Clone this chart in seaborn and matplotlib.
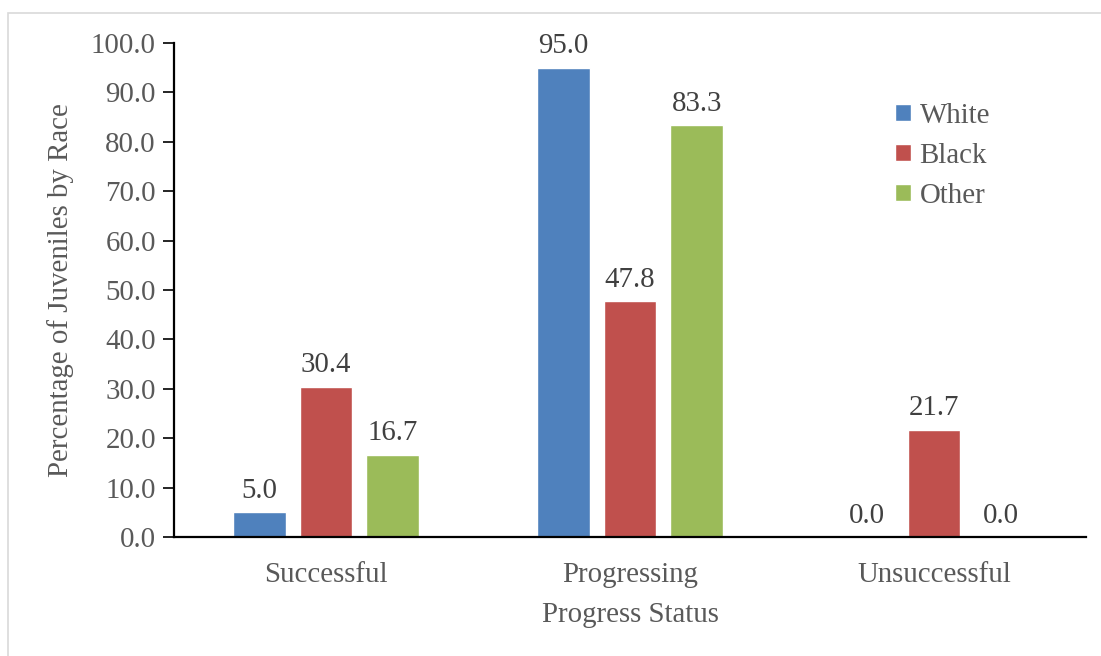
import matplotlib
matplotlib.use("Agg")
import matplotlib.pyplot as plt
import seaborn as sns
import pandas as pd
from matplotlib.patches import Rectangle

# Progress outcome by race (percent of juveniles)
statuses = ["Successful", "Progressing", "Unsuccessful"]
races = ["White", "Black", "Other"]
white = [5.0, 95.0, 0.0]
black = [30.4, 47.8, 21.7]
other = [16.7, 83.3, 0.0]
colors = ["#4F81BD", "#C0504D", "#9BBB59"]
yticks = [0, 10, 20, 30, 40, 50, 60, 70, 80, 90, 100]

df = pd.DataFrame({
    "status": statuses * 3,
    "race": [r for r in races for _ in statuses],
    "pct": white + black + other,
})

sns.set_theme(style="white")
plt.rcParams["font.family"] = ["Liberation Serif", "DejaVu Serif"]

tick_color = "#595959"
label_color = "#404040"
fs = 20.8

fig = plt.figure(figsize=(11.01, 6.56), dpi=100)
ax = fig.add_axes([174 / 1101, 1 - 537 / 656, (1086 - 174) / 1101, (537 - 43) / 656])

sns.barplot(data=df, x="status", y="pct", hue="race", order=statuses,
            hue_order=races, palette=colors, width=0.66, gap=0.21,
            saturation=1, ax=ax, legend=True)

for cont in ax.containers:
    ax.bar_label(cont, fmt="%.1f", padding=6, fontsize=fs, color=label_color)

ax.set_ylim(0, 100)
ax.set_xlim(-0.5, 2.5)
ax.set_yticks(yticks)
ax.set_yticklabels([f"{v:.1f}" for v in yticks])
ax.tick_params(axis="y", which="major", length=8, width=1.2, color="black",
               labelsize=fs, labelcolor=tick_color, left=True, pad=5, direction="out")
ax.tick_params(axis="x", length=0, labelsize=fs, labelcolor=tick_color, pad=18)

for side in ["top", "right"]:
    ax.spines[side].set_visible(False)
for side in ["left", "bottom"]:
    ax.spines[side].set_color("black")
    ax.spines[side].set_linewidth(1.6)

ax.set_xlabel("Progress Status", fontsize=fs, color=tick_color, labelpad=10)
ax.set_ylabel("Percentage of Juveniles by Race", fontsize=fs, color=tick_color, labelpad=12)

leg = ax.legend(loc="upper left", bbox_to_anchor=(0.778, 0.902), frameon=False,
                fontsize=fs, handlelength=0.55, handleheight=0.55, handletextpad=0.3,
                labelspacing=0.48, borderaxespad=0)
for t in leg.get_texts():
    t.set_color(tick_color)

# Light outer border of the chart area
fig.patches.append(Rectangle((8 / 1101, -0.01), 1.02, 1 - 13 / 656 + 0.01,
                             transform=fig.transFigure, fill=False,
                             edgecolor="#D9D9D9", linewidth=1.2, zorder=-1))

fig.savefig("out.png", dpi=100, facecolor="white")
